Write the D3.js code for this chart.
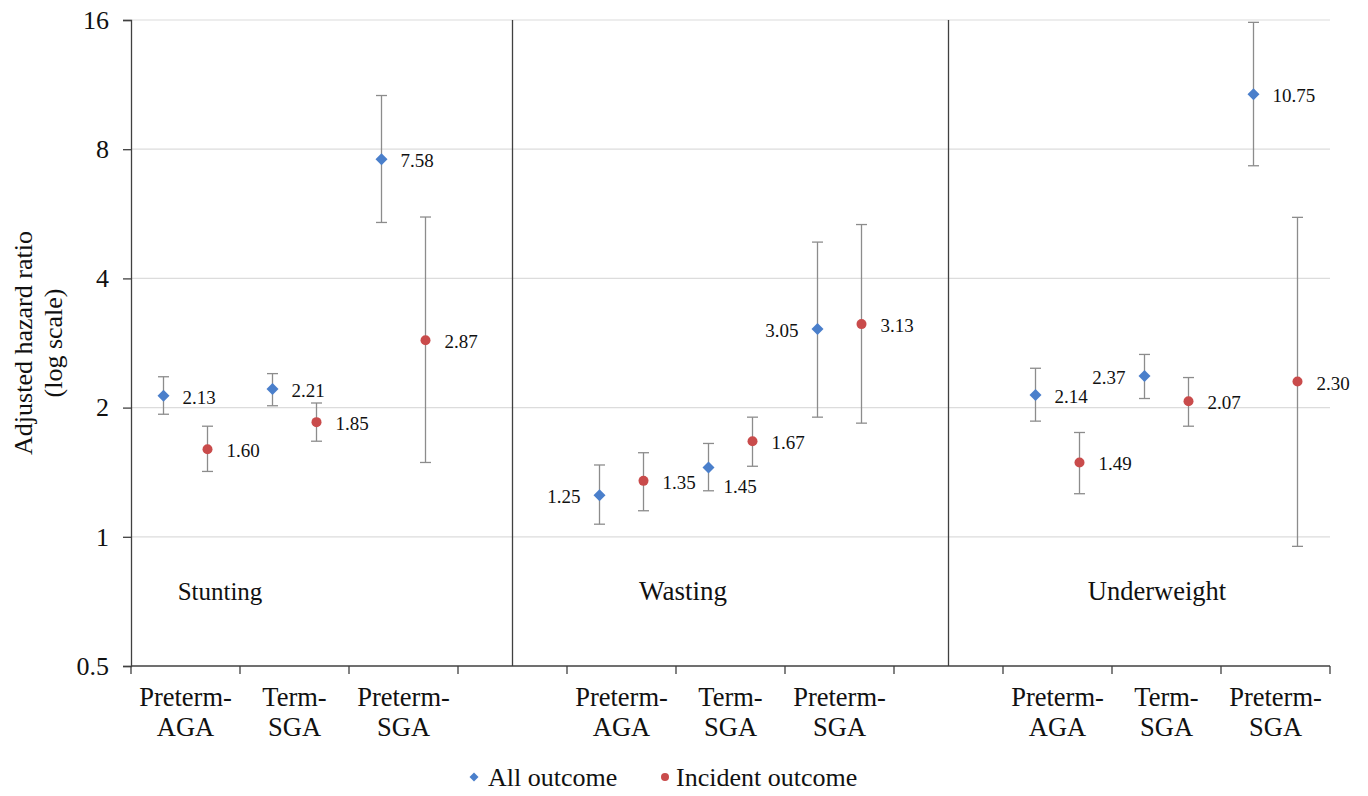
<!DOCTYPE html>
<html>
<head>
<meta charset="utf-8">
<script src="https://cdn.jsdelivr.net/npm/d3@7"></script>
<style>
  html, body { margin: 0; padding: 0; background: #fff; }
</style>
</head>
<body>
<div id="chart"></div>
<script>
// Adjusted hazard ratios (log scale), by outcome and birth group

const panels = ['Stunting', 'Wasting', 'Underweight'];
const groups = [['Preterm-', 'AGA'], ['Term-', 'SGA'], ['Preterm-', 'SGA']];
const yTicks = [0.5, 1, 2, 4, 8, 16];

// "All outcome" (blue diamonds): estimate, lower and upper CI, one row per panel
const allHR = [[2.13, 2.21, 7.58], [1.25, 1.45, 3.05], [2.14, 2.37, 10.75]];
const allLo = [[1.93, 2.02, 5.40], [1.07, 1.28, 1.90], [1.86, 2.10, 7.32]];
const allHi = [[2.36, 2.40, 10.67], [1.47, 1.65, 4.86], [2.47, 2.66, 15.80]];

// "Incident outcome" (red dots)
const incHR = [[1.60, 1.85, 2.87], [1.35, 1.67, 3.13], [1.49, 2.07, 2.30]];
const incLo = [[1.42, 1.67, 1.49], [1.15, 1.46, 1.84], [1.26, 1.81, 0.95]];
const incHi = [[1.81, 2.05, 5.56], [1.57, 1.90, 5.34], [1.75, 2.35, 5.55]];

const W = 1368, H = 796;
const m = { left: 131, right: 38, top: 20, bottom: 130 };
const blue = '#4a7fcb', red = '#c94b4b', errCol = '#8c8c8c', axisCol = '#404040';
const serif = 'Liberation Serif';

const svg = d3.select('#chart').append('svg')
    .attr('width', W)
    .attr('height', H);

// 11 slots: 3 groups + 1 spacer per panel (last panel has no spacer)
const slots = d3.range(panels.length * 4 - 1);
const x = d3.scaleBand().domain(slots).range([m.left, W - m.right]);
const y = d3.scaleLog().base(2).domain([0.5, 16]).range([H - m.bottom, m.top]);
const slotOf = (p, g) => p * 4 + g;

// Gridlines
svg.append('g')
    .selectAll('line')
    .data(yTicks.slice(1))
    .join('line')
    .attr('x1', m.left).attr('x2', W - m.right)
    .attr('y1', d => y(d)).attr('y2', d => y(d))
    .attr('stroke', '#dcdcdc').attr('stroke-width', 1.2);

// Panel dividers (middle of spacer slots)
svg.append('g')
    .selectAll('line')
    .data(d3.range(1, panels.length))
    .join('line')
    .attr('x1', p => x(p * 4 - 1) + x.bandwidth() / 2)
    .attr('x2', p => x(p * 4 - 1) + x.bandwidth() / 2)
    .attr('y1', m.top).attr('y2', H - m.bottom)
    .attr('stroke', axisCol).attr('stroke-width', 1.3);

// Y axis
const yAxis = svg.append('g')
    .attr('transform', `translate(${m.left},0)`)
    .call(d3.axisLeft(y).tickValues(yTicks).tickFormat(d => d).tickSize(8).tickPadding(14));
yAxis.select('.domain').attr('stroke', axisCol).attr('stroke-width', 1.3);
yAxis.selectAll('.tick line').attr('stroke', axisCol).attr('stroke-width', 1.3);
yAxis.selectAll('.tick text')
    .style('font-family', serif)
    .attr('font-size', 26)
    .attr('fill', '#111');

// X axis: line plus ticks on slot borders
const xg = svg.append('g').attr('transform', `translate(0,${H - m.bottom})`);
xg.append('line')
    .attr('x1', m.left).attr('x2', W - m.right)
    .attr('stroke', axisCol).attr('stroke-width', 1.3);
xg.selectAll('line.tick')
    .data(slots.concat([slots.length]))
    .join('line')
    .attr('class', 'tick')
    .attr('x1', i => i < slots.length ? x(i) : x(i - 1) + x.bandwidth())
    .attr('x2', i => i < slots.length ? x(i) : x(i - 1) + x.bandwidth())
    .attr('y1', 0).attr('y2', 8)
    .attr('stroke', axisCol).attr('stroke-width', 1.3);

// Category labels
const catData = [];
panels.forEach((p, pi) => groups.forEach((g, gi) => catData.push({ slot: slotOf(pi, gi), lines: g })));
const catText = svg.append('g').selectAll('text')
    .data(catData)
    .join('text')
    .style('font-family', serif)
    .attr('fill', '#111')
    .attr('text-anchor', 'middle')
    .attr('font-size', 26.5)
    .attr('transform', d => `translate(${x(d.slot) + x.bandwidth() / 2},${H - m.bottom})`);
catText.append('tspan').attr('x', 0).attr('y', 40).text(d => d.lines[0]);
catText.append('tspan').attr('x', 0).attr('y', 70).text(d => d.lines[1]);

// Panel names (placed by hand like the original text boxes)
const panelLabelX = [220, 683, 1157];
const panelLabelSize = [25, 27, 26.5];
svg.append('g').selectAll('text')
    .data(panels)
    .join('text')
    .style('font-family', serif)
    .attr('fill', '#111')
    .attr('x', (d, i) => panelLabelX[i])
    .attr('y', 600)
    .attr('text-anchor', 'middle')
    .attr('font-size', (d, i) => panelLabelSize[i])
    .text(d => d);

// Y axis title
const yt = svg.append('text')
    .style('font-family', serif)
    .attr('fill', '#111')
    .attr('transform', `translate(0,${(m.top + H - m.bottom) / 2}) rotate(-90)`)
    .attr('text-anchor', 'middle')
    .attr('font-size', 26);
yt.append('tspan').attr('x', 0).attr('y', 32).text('Adjusted hazard ratio');
yt.append('tspan').attr('x', 0).attr('y', 62).text('(log scale)');

// Build point records
const off = 22;
const points = [];
panels.forEach((p, pi) => groups.forEach((g, gi) => {
    const cx = x(slotOf(pi, gi)) + x.bandwidth() / 2;
    points.push({ key: `all-${pi}-${gi}`, kind: 'all', cx: cx - off, v: allHR[pi][gi], lo: allLo[pi][gi], hi: allHi[pi][gi] });
    points.push({ key: `inc-${pi}-${gi}`, kind: 'inc', cx: cx + off, v: incHR[pi][gi], lo: incLo[pi][gi], hi: incHi[pi][gi] });
}));

// Error bars
const eb = svg.append('g').attr('stroke', errCol).attr('stroke-width', 1.3);
eb.selectAll('line.v').data(points).join('line').attr('class', 'v')
    .attr('x1', d => d.cx).attr('x2', d => d.cx)
    .attr('y1', d => y(d.lo)).attr('y2', d => y(d.hi));
eb.selectAll('line.lo').data(points).join('line').attr('class', 'lo')
    .attr('x1', d => d.cx - 5.5).attr('x2', d => d.cx + 5.5)
    .attr('y1', d => y(d.lo)).attr('y2', d => y(d.lo));
eb.selectAll('line.hi').data(points).join('line').attr('class', 'hi')
    .attr('x1', d => d.cx - 5.5).attr('x2', d => d.cx + 5.5)
    .attr('y1', d => y(d.hi)).attr('y2', d => y(d.hi));

// Markers
const diamond = s => `M0,${-s}L${s},0L0,${s}L${-s},0Z`;
svg.append('g').selectAll('path')
    .data(points.filter(d => d.kind === 'all'))
    .join('path')
    .attr('d', diamond(6))
    .attr('transform', d => `translate(${d.cx},${y(d.v)})`)
    .attr('fill', blue);
svg.append('g').selectAll('circle')
    .data(points.filter(d => d.kind === 'inc'))
    .join('circle')
    .attr('cx', d => d.cx).attr('cy', d => y(d.v))
    .attr('r', 5)
    .attr('fill', red);

// Value labels: most on the right, a few moved like in the original
const leftLabels = ['all-1-0', 'all-1-2', 'all-2-1'];
const lowered = ['all-1-1'];
svg.append('g').selectAll('text')
    .data(points)
    .join('text')
    .style('font-family', serif)
    .attr('fill', '#111')
    .attr('font-size', 19)
    .attr('text-anchor', d => leftLabels.includes(d.key) ? 'end' : 'start')
    .attr('x', d => leftLabels.includes(d.key) ? d.cx - 19 : d.cx + (lowered.includes(d.key) ? 15 : 19))
    .attr('y', d => y(d.v) + (lowered.includes(d.key) ? 25 : 8))
    .text(d => d.v.toFixed(2));

// Legend
const lg = svg.append('g').attr('transform', `translate(0,${H - 10})`);
lg.append('path').attr('d', diamond(4.5)).attr('transform', 'translate(474,-9)').attr('fill', blue);
lg.append('text').style('font-family', serif).attr('fill', '#111')
    .attr('x', 488).attr('y', 0).attr('font-size', 26).text('All outcome');
lg.append('circle').attr('cx', 665).attr('cy', -9).attr('r', 4).attr('fill', red);
lg.append('text').style('font-family', serif).attr('fill', '#111')
    .attr('x', 676).attr('y', 0).attr('font-size', 26).text('Incident outcome');
</script>
</body>
</html>
